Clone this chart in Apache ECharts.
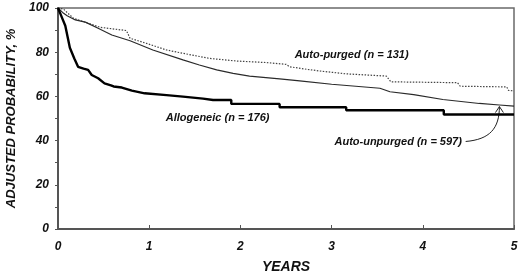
<!DOCTYPE html>
<html><head><meta charset="utf-8">
<script src="https://cdn.jsdelivr.net/npm/echarts@6/dist/echarts.min.js"></script>
<style>html,body{margin:0;padding:0;background:#fff}#c{width:520px;height:274px}</style>
</head><body><div id="c"></div>
<script>
// Years
const xTicks = [0, 1, 2, 3, 4, 5];
const yTicks = [0, 20, 40, 60, 80, 100];

const allogeneicT = [0, 0.03, 0.08, 0.13, 0.18, 0.22, 0.28, 0.33, 0.37, 0.44, 0.51, 0.58, 0.61, 0.70, 0.81, 0.95, 1.19, 1.37, 1.59, 1.70, 1.90, 1.90, 2.43, 2.43, 3.16, 3.16, 4.23, 4.23, 5.0];
const allogeneicS = [100, 97, 92, 82, 77, 73.4, 72.6, 72, 69.7, 68.2, 65.9, 65, 64.5, 64, 62.6, 61.4, 60.6, 59.9, 59.0, 58.4, 58.4, 56.6, 56.6, 55.1, 55.1, 53.7, 53.7, 51.8, 51.8];

const unpurgedT = [0, 0.05, 0.10, 0.19, 0.30, 0.44, 0.59, 0.79, 1.04, 1.37, 1.55, 1.74, 1.92, 2.10, 2.43, 2.65, 3.0, 3.53, 3.64, 3.9, 4.22, 4.62, 4.84, 5.0];
const unpurgedS = [100, 98, 96.5, 94.6, 93.6, 90.8, 87.8, 85.2, 81, 76.5, 74.2, 72.0, 70.4, 69.2, 67.9, 67, 65.5, 63.7, 62.1, 60.8, 58.6, 56.8, 56.1, 55.6];

const purgedT = [0, 0.06, 0.17, 0.28, 0.46, 0.55, 0.75, 0.79, 0.97, 1.19, 1.37, 1.66, 1.96, 2.29, 2.50, 2.54, 2.74, 2.87, 3.16, 3.60, 3.65, 4.38, 4.41, 4.92, 4.94, 5.0];
const purgedS = [100, 99.5, 95.3, 93.8, 91.3, 90.8, 89.8, 86.3, 84, 81, 79.5, 77.2, 76, 75.3, 74.5, 73.4, 72.2, 71.5, 70.2, 69.2, 66.6, 66.2, 64.6, 64.3, 62.7, 62.5];

const labels = [
  {text: 'Auto-purged (n = 131)', at: [3.22, 78.7]},
  {text: 'Allogeneic (n = 176)', at: [1.75, 50.2]},
  {text: 'Auto-unpurged (n = 597)', at: [3.73, 39.4]}
];
const arrowFrom = [4.47, 39.6];
const arrowTo = [4.84, 55.4];

const zip = (t, s) => t.map((v, i) => [v, s[i]]);
const FF = '"Liberation Sans", Arial, sans-serif';
const chart = echarts.init(document.getElementById('c'));
chart.setOption({
  animation: false,
  grid: {left: 58, right: 6, top: 8, bottom: 45, show: true, borderColor: '#6a6a6a', borderWidth: 1.5,
    containLabel: false, outerBoundsMode: 'none'},
  xAxis: {
    type: 'value', min: 0, max: 5, interval: 1,
    name: 'YEARS', nameLocation: 'middle', nameGap: 31,
    nameTextStyle: {fontFamily: FF, fontWeight: 'bold', fontStyle: 'italic', fontSize: 14, color: '#111'},
    axisLine: {lineStyle: {color: '#555', width: 2}},
    axisTick: {inside: true, length: 4, lineStyle: {color: '#555'}},
    axisLabel: {margin: 12, fontFamily: FF, fontWeight: 'bold', fontStyle: 'italic', fontSize: 12, color: '#111',
      formatter: v => xTicks.includes(v) ? String(v) : ''},
    splitLine: {show: false}
  },
  yAxis: {
    type: 'value', min: 0, max: 100, interval: 20,
    name: 'ADJUSTED PROBABILITY, %', nameLocation: 'middle', nameGap: 40, nameRotate: 90,
    nameTextStyle: {fontFamily: FF, fontWeight: 'bold', fontStyle: 'italic', fontSize: 13, color: '#111'},
    axisLine: {show: true, lineStyle: {color: '#555', width: 2}},
    axisTick: {show: true, length: 3, lineStyle: {color: '#555'}},
    minorTick: {show: true, splitNumber: 2, length: 3, lineStyle: {color: '#555'}},
    axisLabel: {margin: 9, fontFamily: FF, fontWeight: 'bold', fontStyle: 'italic', fontSize: 12, color: '#111',
      formatter: v => yTicks.includes(v) ? String(v) : ''},
    splitLine: {show: false}
  },
  series: [
    {name: 'Auto-purged', type: 'line', data: zip(purgedT, purgedS), showSymbol: false,
      lineStyle: {color: '#444', width: 1.2, type: [1.5, 1.5]}},
    {name: 'Auto-unpurged', type: 'line', data: zip(unpurgedT, unpurgedS), showSymbol: false,
      lineStyle: {color: '#2a2a2a', width: 1.2}},
    {name: 'Allogeneic', type: 'line', data: zip(allogeneicT, allogeneicS), showSymbol: false,
      lineStyle: {color: '#000', width: 2.4}}
  ]
});

const px = p => chart.convertToPixel({gridIndex: 0}, p);
const g = labels.map(l => {
  const p = px(l.at);
  return {type: 'text', x: p[0], y: p[1], style: {text: l.text, align: 'center', verticalAlign: 'middle',
    font: 'italic bold 11px ' + FF, fill: '#111'}};
});
const a0 = px(arrowFrom), a1 = px(arrowTo);
g.push({type: 'bezierCurve', shape: {x1: a0[0], y1: a0[1], cpx1: a0[0] + 24, cpy1: a0[1] - 2,
  cpx2: a1[0], cpy2: a1[1] + 22, x2: a1[0], y2: a1[1]},
  style: {stroke: '#222', lineWidth: 1, fill: null}});
g.push({type: 'polyline', shape: {points: [[a1[0] - 4, a1[1] + 6], [a1[0], a1[1]], [a1[0] + 4, a1[1] + 6]]},
  style: {stroke: '#222', lineWidth: 1, fill: null}});
chart.setOption({graphic: g});
</script></body></html>
